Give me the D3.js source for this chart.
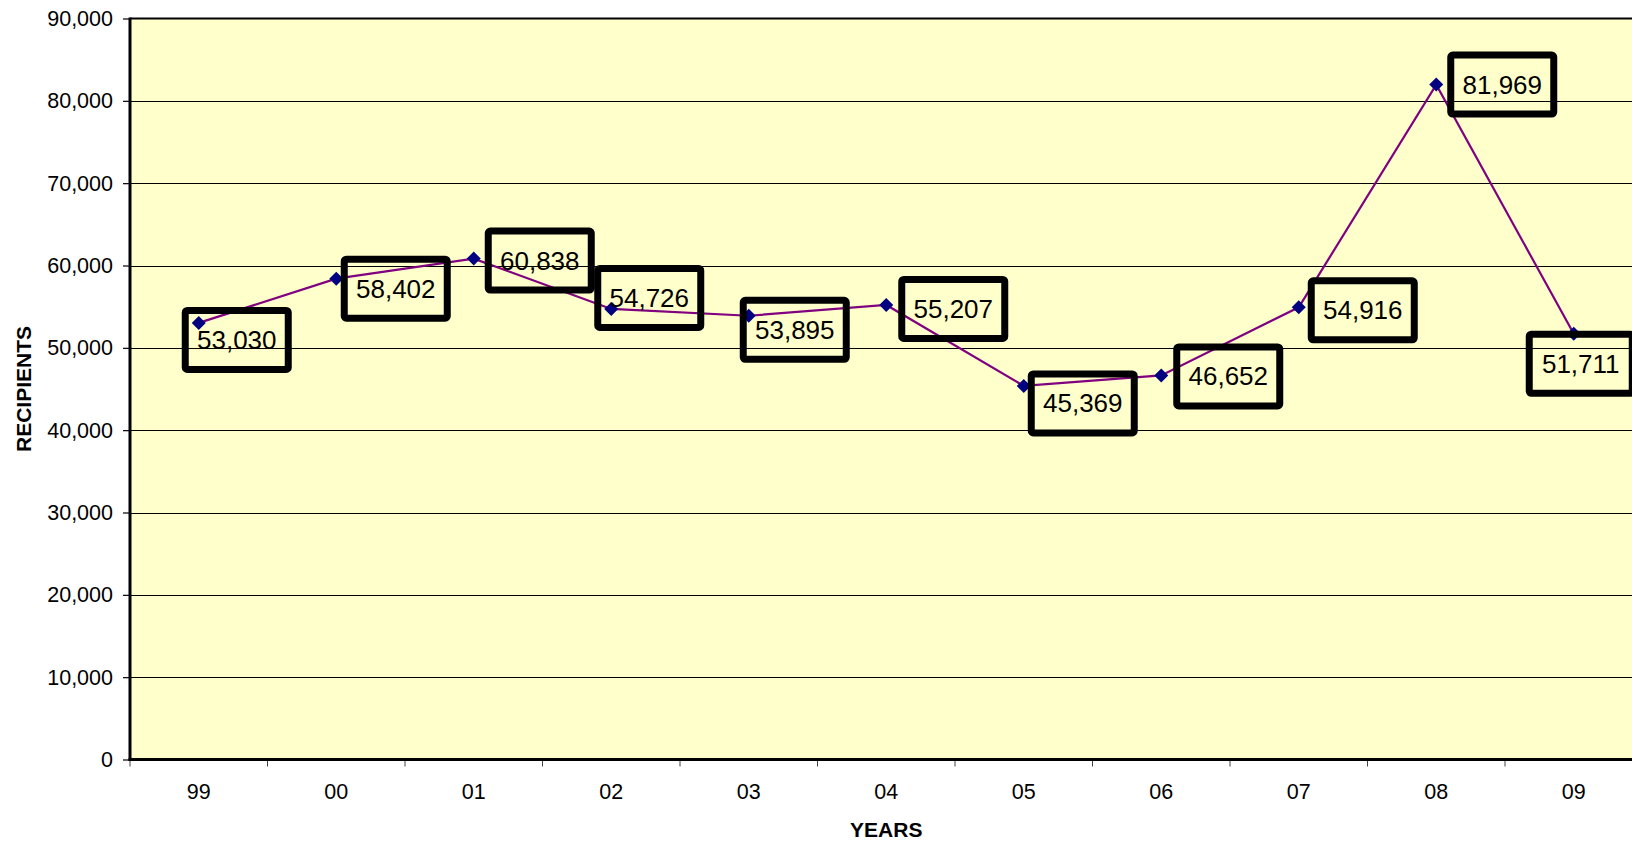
<!DOCTYPE html>
<html>
<head>
<meta charset="utf-8">
<script src="https://cdn.jsdelivr.net/npm/d3@7"></script>
<style>
  html, body { margin: 0; padding: 0; background: #ffffff; overflow: hidden; }
  svg { display: block; font-family: Arial, "Liberation Sans", sans-serif; }
</style>
</head>
<body>
<svg id="chart" width="1632" height="843"></svg>
<script>
// ---- data ----
const years = ["99", "00", "01", "02", "03", "04", "05", "06", "07", "08", "09"];
const recipients = [53030, 58402, 60838, 54726, 53895, 55207, 45369, 46652, 54916, 81969, 51711];
const yTicks = [0, 10000, 20000, 30000, 40000, 50000, 60000, 70000, 80000, 90000];

// label box placement relative to each point (layout, not data)
const labelDx = [-17, 4.5, 11, -17, -9, 12, 4, 12, 9, 11, -48];
const labelDy = [-16, -23, -31, -44, -19, -29, -15.5, -32, -30, -33, -3];

// ---- layout ----
const W = 1632, H = 843;
const plot = { left: 130, right: 1642.5, top: 18.5, bottom: 759.5 };

const svg = d3.select("#chart");

const x = d3.scaleBand().domain(years).range([plot.left, plot.right]).padding(0);
const y = d3.scaleLinear().domain([0, 90000]).range([plot.bottom, plot.top]);

// plot background
svg.append("rect")
  .attr("x", plot.left).attr("y", plot.top)
  .attr("width", plot.right - plot.left).attr("height", plot.bottom - plot.top)
  .attr("fill", "#FFFFCC");

// gridlines
svg.append("g").selectAll("line")
  .data(yTicks.filter(d => d > 0 && d < 90000))
  .join("line")
  .attr("x1", plot.left).attr("x2", plot.right)
  .attr("y1", d => Math.round(y(d)) + 0.5).attr("y2", d => Math.round(y(d)) + 0.5)
  .attr("stroke", "#000").attr("stroke-width", 1);

// top border
svg.append("line")
  .attr("x1", plot.left).attr("x2", plot.right)
  .attr("y1", plot.top).attr("y2", plot.top)
  .attr("stroke", "#000").attr("stroke-width", 2);

// y axis
const yAxis = d3.axisLeft(y).tickValues(yTicks).tickSize(7).tickPadding(10)
  .tickFormat(d3.format(","));
const gy = svg.append("g").attr("transform", `translate(${plot.left},0)`).call(yAxis);
gy.select(".domain").remove();
gy.selectAll(".tick line").attr("stroke", "#000").attr("stroke-width", 1.2);
gy.selectAll(".tick text").attr("font-size", 21.5).attr("fill", "#000")
  .attr("font-family", "Arial, 'Liberation Sans', sans-serif");

// x axis (ticks at band boundaries)
const gx = svg.append("g").attr("transform", `translate(0,${plot.bottom})`);
const boundaries = years.map(d => x(d)).concat([plot.right]);
gx.selectAll("line.tk").data(boundaries).join("line")
  .attr("class", "tk")
  .attr("x1", d => d).attr("x2", d => d)
  .attr("y1", 0).attr("y2", 7)
  .attr("stroke", "#444").attr("stroke-width", 1);
gx.selectAll("text").data(years).join("text")
  .attr("x", d => x(d) + x.bandwidth() / 2)
  .attr("y", 39.5)
  .attr("text-anchor", "middle")
  .attr("font-size", 21.5).attr("fill", "#000")
  .text(d => d);

// axis lines
svg.append("line")
  .attr("x1", plot.left).attr("x2", plot.left)
  .attr("y1", plot.top - 1).attr("y2", plot.bottom + 1.5)
  .attr("stroke", "#000").attr("stroke-width", 3);
svg.append("line")
  .attr("x1", plot.left - 1.5).attr("x2", plot.right)
  .attr("y1", plot.bottom).attr("y2", plot.bottom)
  .attr("stroke", "#000").attr("stroke-width", 3);

// axis titles
svg.append("text")
  .attr("x", (plot.left + plot.right) / 2).attr("y", 836.5)
  .attr("text-anchor", "middle")
  .attr("font-size", 21).attr("font-weight", "bold")
  .text("YEARS");
svg.append("text")
  .attr("transform", `translate(31,${(plot.top + plot.bottom) / 2}) rotate(-90)`)
  .attr("text-anchor", "middle")
  .attr("font-size", 21).attr("font-weight", "bold")
  .text("RECIPIENTS");

// series
const pts = years.map((yr, i) => ({ yr, v: recipients[i], i }));
const cx = d => x(d.yr) + x.bandwidth() / 2;

svg.append("path")
  .datum(pts)
  .attr("fill", "none")
  .attr("stroke", "#800080")
  .attr("stroke-width", 2.2)
  .attr("d", d3.line().x(cx).y(d => y(d.v)));

svg.append("g").selectAll("path")
  .data(pts).join("path")
  .attr("transform", d => `translate(${cx(d)},${y(d.v)})`)
  .attr("d", "M0,-7L7,0L0,7L-7,0Z")
  .attr("fill", "#000080");

// data labels
const boxW = 110, boxH = 66, bw = 7;
const lab = svg.append("g").selectAll("g")
  .data(pts).join("g")
  .attr("transform", d => `translate(${cx(d) + labelDx[d.i]},${y(d.v) + labelDy[d.i]})`);
lab.append("rect")
  .attr("x", bw / 2).attr("y", bw / 2)
  .attr("width", boxW - bw).attr("height", boxH - bw)
  .attr("rx", 2)
  .attr("fill", "none").attr("stroke", "#000").attr("stroke-width", bw);
lab.append("text")
  .attr("x", boxW / 2).attr("y", 42)
  .attr("text-anchor", "middle")
  .attr("font-size", 26).attr("fill", "#000")
  .text(d => d3.format(",")(d.v));
</script>
</body>
</html>
